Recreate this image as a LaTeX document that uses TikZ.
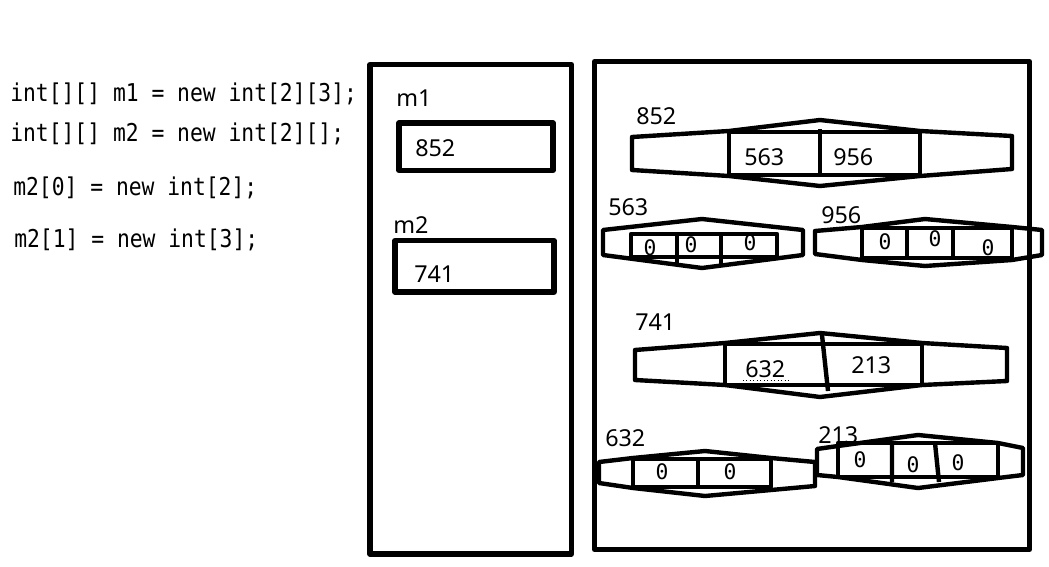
\documentclass[tikz,border=0pt]{standalone}
\usepackage{graphicx}
\usepackage{fontspec}
\setmainfont{Noto Sans}
\setmonofont{DejaVu Sans Mono}
\newcommand{\tallcode}[1]{\scalebox{1}[1.15]{#1}}
\begin{document}
\begin{tikzpicture}[x=0.75pt,y=-0.75pt,line join=round,
  frame/.style={draw,line width=3.8pt},
  arr/.style={draw,line width=3.3pt},
  code/.style={anchor=base west,inner sep=0pt,font=\ttfamily\fontsize{16}{18}\selectfont},
  lbl/.style={anchor=base west,inner sep=0pt,font=\fontsize{17.5}{20}\selectfont},
  zero/.style={inner sep=0pt,font=\ttfamily\fontsize{16}{18}\selectfont}]
\useasboundingbox (0,0) rectangle (1049,567);
% code
\node[code] (c1) at (10,101) {\tallcode{int[][] m1 = new int[2][3];}};
\node[code] (c2) at (10,141) {\tallcode{int[][] m2 = new int[2][];}};
\node[code] (c3) at (13,195) {\tallcode{m2[0] = new int[2];}};
\node[code] (c4) at (14,247) {\tallcode{m2[1] = new int[3];}};
% stack
\draw[frame] (370,64.5) rectangle (571.5,554);
\node[lbl] (lm1) at (396,106) {m1};
\draw[frame] (399,123) rectangle (553,170.5);
\node[lbl] (vm1) at (415,156) {852};
\node[lbl] (lm2) at (393,233) {m2};
\draw[frame] (395,240.5) rectangle (554,292);
\node[lbl] (vm2) at (414,282) {741};
% heap
\draw[frame] (594.5,61.5) rectangle (1029.5,549.5);
% array 852
\node[lbl] (l852) at (636,124) {852};
\draw[arr] (632,137) -- (729,131) -- (820,120) -- (920,131) -- (1012,136) -- (1012,169) -- (920,176) -- (820,186) -- (729,176) -- (632,170) -- cycle;
\draw[arr] (729,132) rectangle (920,175);
\draw[arr] (820,129) -- (820,177);
\node[lbl] (v563) at (744,165) {563};
\node[lbl] (v956) at (833,165) {956};
% array 563
\node[lbl] (l563) at (608,215) {563};
\draw[arr] (603,230) -- (702,219) -- (803,230) -- (803,255) -- (702,268) -- (603,255) -- cycle;
\draw[arr] (631,234) rectangle (777,257);
\draw[arr] (677,234) -- (677,264) (721,234) -- (721,264);
\node[zero] (z11) at (650,248) {0};
\node[zero] (z12) at (691,245) {0};
\node[zero] (z13) at (750,243) {0};
% array 956
\node[lbl] (l956) at (821,223) {956};
\draw[arr] (815,231) -- (862,227) -- (925,219) -- (1012,227) -- (1042,230) -- (1042,255) -- (1012,260) -- (925,266) -- (862,260) -- (815,254) -- cycle;
\draw[arr] (862,228) rectangle (1012,258);
\draw[arr] (907,228) -- (907,260) (953,228) -- (953,260);
\node[zero] (z21) at (885,242) {0};
\node[zero] (z22) at (935,239) {0};
\node[zero] (z23) at (988,248) {0};
% array 741
\node[lbl] (l741) at (635,330) {741};
\draw[arr] (635,350) -- (725,343) -- (820,333) -- (922,343) -- (1007,348) -- (1007,381) -- (922,385) -- (820,397) -- (725,385) -- (635,380) -- cycle;
\draw[arr] (725,344) rectangle (922,385);
\draw[arr] (822,335) -- (828,391);
\node[lbl] (v632) at (745,377) {632};
\draw[line width=0.6pt,dotted] (743,380) -- (790,380);
\node[lbl] (v213) at (851,373) {213};
% array 632
\node[lbl] (l632) at (605,446) {632};
\draw[arr] (599,462) -- (633,458) -- (705,451) -- (771,458) -- (815,462) -- (815,486) -- (771,490) -- (705,496) -- (633,488) -- (599,483) -- cycle;
\draw[arr] (633,459) rectangle (771,487);
\draw[arr] (698,459) -- (698,489);
\node[zero] (z31) at (662,472) {0};
\node[zero] (z32) at (730,472) {0};
% array 213
\node[lbl] (l213) at (818,443) {213};
\draw[arr] (817,449) -- (838,446) -- (918,435) -- (998,443) -- (1023,448) -- (1023,475) -- (998,478) -- (918,488) -- (838,477) -- (817,475) -- cycle;
\draw[arr] (838,443) rectangle (998,477);
\draw[arr] (892,443) -- (892,482) (935,443) -- (939,482);
\node[zero] (z41) at (860,460) {0};
\node[zero] (z42) at (913,465) {0};
\node[zero] (z43) at (958,463) {0};
\end{tikzpicture}
\end{document}
